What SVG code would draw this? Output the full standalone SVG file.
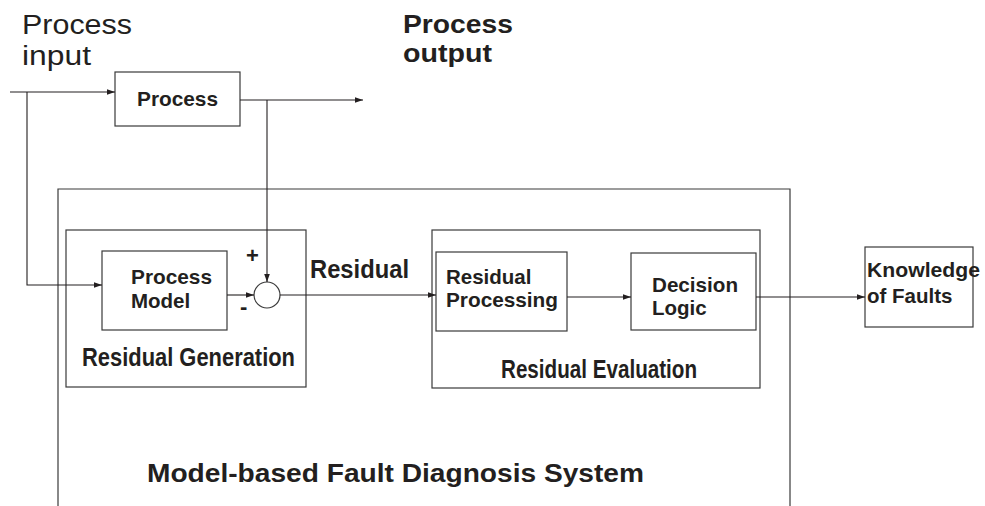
<svg xmlns="http://www.w3.org/2000/svg" width="985" height="506" viewBox="0 0 985 506">
  <defs>
    <marker id="arrow" viewBox="0 0 10 10" refX="10" refY="5" markerWidth="8" markerHeight="8" markerUnits="userSpaceOnUse" orient="auto">
      <path d="M0,1.5 L10,5 L0,8.5 Z" fill="#231f20"/>
    </marker>
  </defs>
  <style>
    .box { fill: #ffffff; stroke: #3a3a3a; stroke-width: 1.2; }
    .frame { fill: none; stroke: #3a3a3a; stroke-width: 1.2; }
    .wire { fill: none; stroke: #231f20; stroke-width: 1.1; }
    .lbl { font-family: "Liberation Sans", Arial, sans-serif; font-weight: bold; fill: #231f20; }
    .plain { font-family: "Liberation Sans", Arial, sans-serif; fill: #231f20; }
    .blk { font-size: 20.5px; }
    .cap { font-size: 25px; }
  </style>
  <rect width="985" height="506" fill="#ffffff"/>

  <!-- outer system frame, open at the bottom -->
  <g id="system">
    <path class="frame" d="M58,520 L58,189 L790,189 L790,520"/>
    <text class="lbl cap" x="147" y="482" textLength="497" lengthAdjust="spacingAndGlyphs">Model-based Fault Diagnosis System</text>
  </g>

  <!-- free labels -->
  <g id="process-input-label">
    <text class="plain" x="22" y="34" font-size="27" textLength="110" lengthAdjust="spacingAndGlyphs">Process</text>
    <text class="plain" x="22" y="65" font-size="27" textLength="69" lengthAdjust="spacingAndGlyphs">input</text>
  </g>
  <g id="process-output-label">
    <text class="lbl" x="403" y="33" font-size="25.5" textLength="110" lengthAdjust="spacingAndGlyphs">Process</text>
    <text class="lbl" x="403" y="62" font-size="25.5" textLength="89" lengthAdjust="spacingAndGlyphs">output</text>
  </g>

  <g id="residual-generation">
    <rect class="box" x="66" y="230" width="240" height="157"/>
    <text class="lbl cap" x="82" y="366" textLength="213" lengthAdjust="spacingAndGlyphs">Residual Generation</text>
  </g>

  <g id="residual-evaluation">
    <rect class="box" x="432" y="230" width="328" height="158"/>
    <text class="lbl cap" x="501" y="378" textLength="196" lengthAdjust="spacingAndGlyphs">Residual Evaluation</text>
  </g>

  <g id="process">
    <rect class="box" x="115" y="72" width="125" height="54"/>
    <text class="lbl blk" x="137" y="106" textLength="81" lengthAdjust="spacingAndGlyphs">Process</text>
  </g>

  <g id="process-model">
    <rect class="box" x="102" y="251" width="125" height="79"/>
    <text class="lbl blk" x="131" y="284" textLength="81" lengthAdjust="spacingAndGlyphs">Process</text>
    <text class="lbl blk" x="131" y="308">Model</text>
  </g>

  <g id="comparator">
    <circle class="box" cx="267" cy="295" r="13"/>
    <text class="lbl" x="246" y="263" font-size="22">+</text>
    <text class="lbl" x="240" y="314" font-size="22">-</text>
  </g>

  <g id="residual-processing">
    <rect class="box" x="436" y="252" width="131" height="79"/>
    <text class="lbl blk" x="446" y="284">Residual</text>
    <text class="lbl blk" x="446" y="307" textLength="112" lengthAdjust="spacingAndGlyphs">Processing</text>
  </g>

  <g id="decision-logic">
    <rect class="box" x="631" y="253" width="125" height="77"/>
    <text class="lbl blk" x="652" y="292" textLength="86" lengthAdjust="spacingAndGlyphs">Decision</text>
    <text class="lbl blk" x="652" y="315">Logic</text>
  </g>

  <g id="knowledge-of-faults">
    <rect class="box" x="865" y="247" width="108" height="80"/>
    <text class="lbl blk" x="867" y="277" textLength="113" lengthAdjust="spacingAndGlyphs">Knowledge</text>
    <text class="lbl blk" x="867" y="303">of Faults</text>
  </g>

  <g id="residual-label">
    <text class="lbl cap" x="310" y="278" textLength="99" lengthAdjust="spacingAndGlyphs">Residual</text>
  </g>

  <g id="connectors">
    <path class="wire" d="M10,92 L115,92" marker-end="url(#arrow)"/>
    <path class="wire" d="M27,92 L27,285 L102,285" marker-end="url(#arrow)"/>
    <path class="wire" d="M240,100 L363,100" marker-end="url(#arrow)"/>
    <path class="wire" d="M267,100 L267,282" marker-end="url(#arrow)"/>
    <path class="wire" d="M227,295 L254,295" marker-end="url(#arrow)"/>
    <path class="wire" d="M280,295 L436,295" marker-end="url(#arrow)"/>
    <path class="wire" d="M567,297 L631,297" marker-end="url(#arrow)"/>
    <path class="wire" d="M756,297 L865,297" marker-end="url(#arrow)"/>
  </g>
</svg>
